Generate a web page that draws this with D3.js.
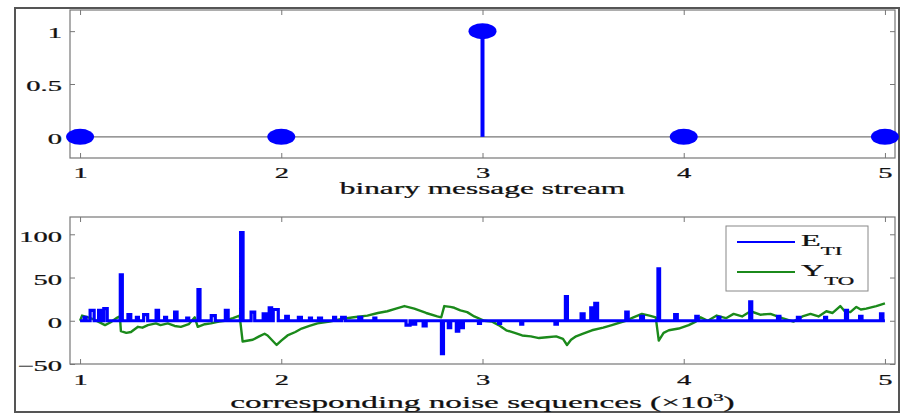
<!DOCTYPE html>
<html>
<head>
<meta charset="utf-8">
<script src="https://cdn.jsdelivr.net/npm/d3@7"></script>
<style>
  body { margin: 0; background: #fff; }
  svg { display: block; }
  text { font-family: "Liberation Serif", "Times New Roman", serif; fill: #111; stroke: #111; stroke-width: 0.25px; }
</style>
</head>
<body>
<div class="chart"></div>
<script>
const W = 902
const H = 413
const SX = 1.9 // the picture is stretched sideways, so is its type

// binary message stream (top panel)
const MSG_INDEX = [1, 2, 3, 4, 5]
const MSG_BITS = [0, 0, 1, 0, 0]
const MSG_TICKS_X = [1, 2, 3, 4, 5]
const MSG_TICKS_Y = [0, 0.5, 1]

// noise sequences (bottom panel), sample index vs value
// E_TI: bursts [start, end, value], zero in between
const E_TI_BURSTS = [
	[1020, 1030, 4], [1050, 1070, 12], [1092, 1102, 12], [1118, 1135, 14], [1200, 1210, 53],
	[1238, 1252, 7], [1280, 1290, 4], [1316, 1336, 7], [1378, 1390, 12], [1420, 1430, 4],
	[1470, 1482, 10], [1530, 1540, 3], [1586, 1596, 36], [1652, 1672, 6], [1722, 1736, 12],
	[1798, 1810, 102], [1850, 1868, 10], [1910, 1925, 8], [1940, 1952, 15], [1960, 1985, 13],
	[2022, 2035, 5], [2085, 2100, 4], [2140, 2150, 3], [2185, 2200, 3],
	[2260, 2270, 4], [2300, 2318, 4], [2385, 2400, 4], [2460, 2470, 3],
	[2620, 2640, -5], [2655, 2668, -4], [2705, 2720, -6], [2796, 2806, -38],
	[2830, 2842, -8], [2870, 2882, -12], [2895, 2905, -8], [2980, 2990, -3],
	[3080, 3090, -3], [3190, 3200, -4], [3360, 3372, -4], [3412, 3422, 28],
	[3490, 3505, 8], [3538, 3552, 15], [3558, 3572, 20], [3712, 3724, 10],
	[3786, 3800, 5], [3872, 3880, 60], [3955, 3968, 7], [4060, 4072, 5],
	[4170, 4180, 4], [4328, 4338, 22], [4466, 4478, 5], [4565, 4578, 4],
	[4700, 4710, 4], [4804, 4814, 12], [4874, 4886, 5], [4978, 4990, 8]
]
const Y_TO_SAMPLE = [
	1000, 1010, 1040, 1064, 1090, 1124, 1150, 1180, 1198, 1203, 1230, 1253, 1288,
	1310, 1337, 1377, 1400, 1436, 1470, 1501, 1540, 1570, 1585, 1620, 1650, 1690,
	1719, 1760, 1793, 1808, 1858, 1890, 1917, 1932, 1977, 2000, 2031, 2070, 2101,
	2140, 2180, 2240, 2299, 2360, 2428, 2480, 2527, 2570, 2612, 2661, 2720, 2775,
	2795, 2810, 2840, 2860, 2890, 2924, 2959, 3009, 3048, 3080, 3118, 3160, 3197,
	3240, 3281, 3320, 3366, 3400, 3420, 3440, 3465, 3500, 3544, 3600, 3643, 3712,
	3750, 3792, 3830, 3861, 3876, 3900, 3926, 3975, 4025, 4060, 4084, 4120, 4164,
	4210, 4248, 4290, 4332, 4380, 4431, 4490, 4545, 4590, 4630, 4670, 4709, 4740,
	4778, 4800, 4828, 4858, 4880, 4907, 4957, 5000
]
const Y_TO_VALUE = [
	0, 6, 4, 2, -1, -5, -2, 3, 5, -12, -14, -13, -7,
	-8, -5, -3, -5, -3, -6, -7, -4, 4, -7, -4, -3, -1,
	0, 3, 6, -24, -22, -18, -15, -17, -28, -23, -17, -13, -9,
	-6, -3, -1, 2, 4, 6, 9, 11, 14, 17, 14, 9, 5,
	4, 17, 16, 15, 12, 10, 5, 0, -1, -5, -11, -14, -17,
	-18, -20, -19, -18, -21, -28, -22, -18, -15, -11, -8, -5, 0,
	4, 8, 6, 4, -23, -14, -11, -9, -5, -1, 4, 0, 6,
	3, 8, 5, 11, 7, 8, 3, -1, 5, 8, 5, 11, 9,
	17, 11, 10, 16, 13, 14, 17, 20
]
const NOISE_TICKS_X = [1000, 2000, 3000, 4000, 5000]
const NOISE_TICKS_Y = [-50, 0, 50, 100]

const BLUE = '#0000ff'
const GREEN = '#1b8a1b'
const AXIS_C = '#777'

const svg = d3.select('.chart').append('svg')
	.attr('width', W)
	.attr('height', H)

// figure frame
svg.append('rect')
	.attr('x', 15).attr('y', 8)
	.attr('width', 884).attr('height', 404)
	.attr('fill', 'none').attr('stroke', '#555').attr('stroke-width', 2)

function frame(g, x, y, ticksX, ticksY, fmtX, fmtY, top, left, right, bottom) {
	const tickLen = 5
	g.append('g')
		.attr('class', 'ax-bottom')
		.attr('transform', `translate(0,${bottom})`)
		.call(d3.axisBottom(x).tickValues(ticksX).tickSize(-tickLen).tickFormat(fmtX))
	g.append('g')
		.attr('transform', `translate(0,${top})`)
		.call(d3.axisTop(x).tickValues(ticksX).tickSize(-tickLen).tickFormat(''))
	g.append('g')
		.attr('class', 'ax-left')
		.attr('transform', `translate(${left},0)`)
		.call(d3.axisLeft(y).tickValues(ticksY).tickSize(-tickLen).tickFormat(fmtY))
	g.append('g')
		.attr('transform', `translate(${right},0)`)
		.call(d3.axisRight(y).tickValues(ticksY).tickSize(-tickLen).tickFormat(''))

	g.selectAll('.domain').remove()
	g.selectAll('.tick line').attr('stroke', AXIS_C)
	g.selectAll('.tick text')
		.attr('fill', '#111')
		.attr('transform', `scale(${SX},1)`)
		.style('font-family', '"Liberation Serif", serif')
		.style('font-size', '15px')

	// stretched labels: keep them anchored where MATLAB puts them
	g.select('.ax-left').selectAll('.tick text')
		.attr('x', -8 / SX).attr('dy', '0.45em')
	g.select('.ax-bottom').selectAll('.tick text')
		.attr('y', 20).attr('dy', 0)

	g.append('rect')
		.attr('x', left).attr('y', top)
		.attr('width', right - left).attr('height', bottom - top)
		.attr('fill', 'none').attr('stroke', AXIS_C).attr('stroke-width', 1.2)
}

// ---------- top panel ----------
const L = 70, R = 895
const T1 = 10, B1 = 158
const x1 = d3.scaleLinear().domain([0.95, 5.05]).range([L, R])
const y1 = d3.scaleLinear().domain([-0.2, 1.2]).range([B1, T1])

const g1 = svg.append('g')
frame(g1, x1, y1, MSG_TICKS_X, MSG_TICKS_Y, d3.format('d'), d => d === 0.5 ? '0.5' : d3.format('d')(d), T1, L, R, B1)

// baseline
g1.append('line')
	.attr('x1', L).attr('x2', R)
	.attr('y1', y1(0)).attr('y2', y1(0))
	.attr('stroke', AXIS_C).attr('stroke-width', 1.2)

const msg = MSG_INDEX.map((d, i) => ({ x: d, v: MSG_BITS[i] }))
g1.selectAll('.stem').data(msg).enter().append('line')
	.attr('class', 'stem')
	.attr('x1', d => x1(d.x)).attr('x2', d => x1(d.x))
	.attr('y1', y1(0)).attr('y2', d => y1(d.v))
	.attr('stroke', BLUE).attr('stroke-width', 4)
g1.selectAll('.dot').data(msg).enter().append('ellipse')
	.attr('class', 'dot')
	.attr('cx', d => x1(d.x)).attr('cy', d => y1(d.v))
	.attr('rx', 14).attr('ry', 8)
	.attr('fill', BLUE)

svg.append('text')
	.attr('transform', `translate(${(L + R) / 2},194) scale(${SX},1)`)
	.attr('text-anchor', 'middle')
	.style('font-size', '16.5px')
	.text('binary message stream')

// ---------- bottom panel ----------
const T2 = 217, B2 = 364
const x2 = d3.scaleLinear().domain([950, 5050]).range([L, R])
const y2 = d3.scaleLinear().domain([-50, 120]).range([B2, T2])

const g2 = svg.append('g')
frame(g2, x2, y2, NOISE_TICKS_X, NOISE_TICKS_Y, d => d / 1000, d3.format('d'), T2, L, R, B2)
g2.select('.ax-bottom').selectAll('.tick text').attr('y', 21)

svg.append('clipPath').attr('id', 'clip2')
	.append('rect').attr('x', L).attr('y', T2).attr('width', R - L).attr('height', B2 - T2)

const plot = g2.append('g').attr('clip-path', 'url(#clip2)')

const ePts = [[1000, 0]]
E_TI_BURSTS.forEach(([s, e, v]) => {
	ePts.push([s, 0], [s, v], [e, v], [e, 0])
})
ePts.push([5000, 0])

const yPts = Y_TO_SAMPLE.map((s, i) => [s, Y_TO_VALUE[i]])

const line = d3.line().x(d => x2(d[0])).y(d => y2(d[1]))

plot.append('path')
	.attr('d', line(yPts))
	.attr('fill', 'none').attr('stroke', GREEN).attr('stroke-width', 2.4)
	.attr('stroke-linejoin', 'round')
plot.append('path')
	.attr('d', line(ePts))
	.attr('fill', 'none').attr('stroke', BLUE).attr('stroke-width', 3.2)

// legend
const lg = svg.append('g')
lg.append('rect')
	.attr('x', 726).attr('y', 226).attr('width', 142).attr('height', 65)
	.attr('fill', '#fff').attr('stroke', '#888').attr('stroke-width', 1)
const legendItems = [
	{ main: 'E', sub: 'TI', color: BLUE, y: 242 },
	{ main: 'Y', sub: 'TO', color: GREEN, y: 272 }
]
legendItems.forEach(d => {
	lg.append('line')
		.attr('x1', 737).attr('x2', 795)
		.attr('y1', d.y).attr('y2', d.y)
		.attr('stroke', d.color).attr('stroke-width', 2)
	const t = lg.append('text')
		.attr('transform', `translate(801,${d.y + 4}) scale(${SX},1)`)
		.style('font-size', '17px')
	t.append('tspan').text(d.main)
	t.append('tspan').attr('dy', 9).style('font-size', '12px').text(d.sub)
})

const xl = svg.append('text')
	.attr('transform', `translate(${(L + R) / 2},408) scale(${SX},1)`)
	.attr('text-anchor', 'middle')
	.style('font-size', '17.5px')
xl.append('tspan').text('corresponding noise sequences (\u00d710')
xl.append('tspan').attr('dy', -7).style('font-size', '11px').text('3')
xl.append('tspan').attr('dy', 7).text(')')
</script>
</body>
</html>
